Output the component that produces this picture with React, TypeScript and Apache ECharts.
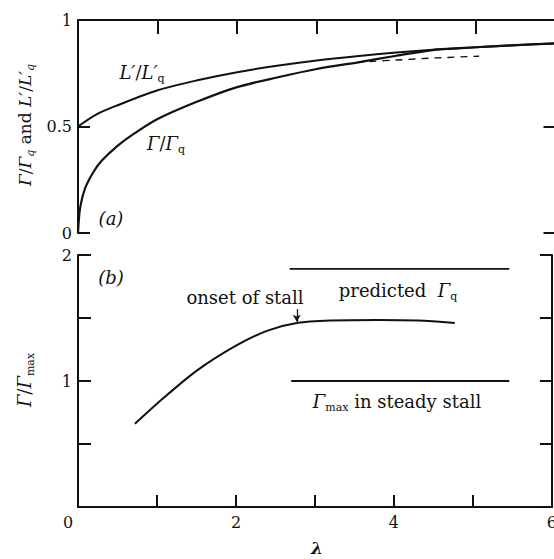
import React, { useEffect, useRef } from 'react';
import * as echarts from 'echarts';

// ---------- data ----------
const liftLambda = [0, 0.25, 0.5, 1, 1.5, 2, 2.5, 3, 3.5, 4, 4.5, 5, 5.5, 6];
const liftRatio = [0.5, 0.56, 0.6, 0.67, 0.717, 0.755, 0.785, 0.81, 0.83, 0.847, 0.861, 0.872, 0.882, 0.89];

const circLambda = [0, 0.02, 0.05, 0.1, 0.2, 0.3, 0.5, 0.7, 1, 1.5, 2, 2.5, 3, 3.5, 4, 4.5, 5, 5.5, 6];
const circRatio = [0, 0.1, 0.16, 0.22, 0.29, 0.34, 0.41, 0.465, 0.535, 0.617, 0.685, 0.73, 0.77, 0.8, 0.832, 0.861, 0.872, 0.882, 0.89];

const dashLambda = [3.5, 3.7, 4.0, 4.5, 5.04];
const dashRatio = [0.8, 0.806, 0.812, 0.822, 0.83];

const stallLambda = [0.72, 1, 1.5, 2, 2.4, 2.77, 3.2, 3.8, 4.3, 4.77];
const stallRatio = [0.66, 0.82, 1.08, 1.28, 1.4, 1.46, 1.48, 1.485, 1.48, 1.46];

const predLambda = [2.68, 5.46];
const predValue = [1.89, 1.89];
const maxLambda = [2.7, 5.46];
const maxValue = [1, 1];

const onsetLambda = 2.77;
const onsetTop = 1.57;
const onsetTip = 1.47;

const xTickLabels = ['0', '2', '4', '6'];
const yTopLabels = ['0', '0.5', '1'];
const yBottomLabels = ['1', '2'];

const FONT = 'DejaVu Serif';
const INK = '#111';

const zip = (xs: number[], ys: number[]) => xs.map((x, i) => [x, ys[i]]);

const richBase = {
  i: { fontFamily: FONT, fontStyle: 'italic', fontSize: 18, lineHeight: 24, color: INK },
  r: { fontFamily: FONT, fontSize: 18, lineHeight: 24, color: INK },
  s: { fontFamily: FONT, fontSize: 11, lineHeight: 12, verticalAlign: 'bottom', color: INK },
  si: { fontFamily: FONT, fontStyle: 'italic', fontSize: 11, lineHeight: 12, verticalAlign: 'bottom', color: INK },
  ti: { fontFamily: FONT, fontStyle: 'italic', fontSize: 17, lineHeight: 22, color: INK },
  tr: { fontFamily: FONT, fontSize: 17, lineHeight: 22, color: INK },
  l: { fontFamily: FONT, fontStyle: 'italic', fontWeight: 'bold', fontSize: 17, lineHeight: 17, color: INK },
};

function txt(x: number, y: number, text: string, extra: any = {}) {
  return {
    type: 'text',
    x,
    y,
    ...extra,
    style: {
      text,
      align: 'center',
      verticalAlign: 'middle',
      fill: INK,
      font: `18px "${FONT}"`,
      rich: richBase,
    },
  };
}

export default function App() {
  const ref = useRef<HTMLDivElement>(null);
  useEffect(() => {
    if (!ref.current) return;
    const chart = echarts.init(ref.current, undefined, { renderer: 'svg' });
    const axisLine = { show: true, onZero: false, lineStyle: { color: INK, width: 2 } };
    const tick = (len: number) => ({ show: true, inside: true, length: len, lineStyle: { color: INK, width: 2 } });
    const labelStyle = { fontFamily: FONT, fontSize: 16, color: INK };
    const curve = { smooth: 0.3, showSymbol: false };
    const option: any = {
      animation: false,
      backgroundColor: '#fff',
      grid: [
        { left: 78, top: 20, width: 477.5, height: 213 },
        { left: 78, top: 255, width: 477.5, height: 252 },
      ],
      xAxis: [
        {
          type: 'value', gridIndex: 0, position: 'top', min: 0, max: 6, interval: 1,
          axisLine, axisTick: tick(14), axisLabel: { show: false }, splitLine: { show: false },
        },
        {
          type: 'value', gridIndex: 1, position: 'bottom', min: 0, max: 6, interval: 1,
          axisLine, axisTick: tick(12), splitLine: { show: false },
          axisLabel: {
            ...labelStyle, margin: 7,
            formatter: (v: number) => {
              const s = xTickLabels.find((t) => Number(t) === v);
              if (s === undefined) return '';
              return v === 0 ? `{z|${s}}` : s;
            },
            rich: { z: { ...labelStyle, padding: [0, 20, 0, 0] } },
          },
        },
      ],
      yAxis: [
        {
          type: 'value', gridIndex: 0, position: 'left', min: 0, max: 1, interval: 0.5,
          axisLine, axisTick: tick(12), splitLine: { show: false },
          axisLabel: {
            ...labelStyle, margin: 6,
            formatter: (v: number) => yTopLabels.find((t) => Number(t) === v) ?? '',
          },
        },
        {
          type: 'value', gridIndex: 0, position: 'right', min: 0, max: 1, interval: 0.5,
          axisLine, axisTick: tick(12), splitLine: { show: false }, axisLabel: { show: false },
        },
        {
          type: 'value', gridIndex: 1, position: 'left', min: 0, max: 2, interval: 0.5,
          axisLine, axisTick: tick(13), splitLine: { show: false },
          axisLabel: {
            ...labelStyle, margin: 6,
            formatter: (v: number) => yBottomLabels.find((t) => Number(t) === v) ?? '',
          },
        },
        {
          type: 'value', gridIndex: 1, position: 'right', min: 0, max: 2, interval: 0.5,
          axisLine, axisTick: tick(12), splitLine: { show: false }, axisLabel: { show: false },
        },
      ],
      series: [
        {
          type: 'line', xAxisIndex: 0, yAxisIndex: 0, data: zip(liftLambda, liftRatio),
          ...curve, lineStyle: { color: INK, width: 2 },
        },
        {
          type: 'line', xAxisIndex: 0, yAxisIndex: 0, data: zip(circLambda, circRatio),
          ...curve, lineStyle: { color: INK, width: 2.2 },
        },
        {
          type: 'line', xAxisIndex: 0, yAxisIndex: 0, data: zip(dashLambda, dashRatio),
          ...curve, lineStyle: { color: INK, width: 1.4, type: [7, 6] },
        },
        {
          type: 'line', xAxisIndex: 1, yAxisIndex: 2, data: zip(stallLambda, stallRatio),
          ...curve, lineStyle: { color: INK, width: 2 },
          markLine: {
            silent: true, symbol: ['none', 'arrow'], symbolSize: [6, 7],
            label: { show: false },
            lineStyle: { color: INK, width: 1.3, type: 'solid' },
            data: [[{ coord: [onsetLambda, onsetTop] }, { coord: [onsetLambda, onsetTip] }]],
          },
        },
        {
          type: 'line', xAxisIndex: 1, yAxisIndex: 2, data: zip(predLambda, predValue),
          showSymbol: false, lineStyle: { color: INK, width: 1.8 },
        },
        {
          type: 'line', xAxisIndex: 1, yAxisIndex: 2, data: zip(maxLambda, maxValue),
          showSymbol: false, lineStyle: { color: INK, width: 1.8 },
        },
      ],
      graphic: [
        txt(25, 125, '{ti|Γ}{tr|/}{ti|Γ}{si|q}{tr| and }{ti|L′}{tr|/}{ti|L′}{si|q}', { rotation: Math.PI / 2 }),
        txt(24, 380, '{i|Γ}{r|/}{i|Γ}{s|max}', { rotation: Math.PI / 2 }),
        txt(142, 72, '{i|L′}{r|/}{i|L′}{s|q}'),
        txt(166, 143, '{i|Γ}{r|/}{i|Γ}{s|q}'),
        txt(111, 218, '{i|(a)}'),
        txt(111, 277, '{i|(b)}'),
        txt(245, 297, '{r|onset of stall}'),
        txt(398, 290, '{r|predicted  }{i|Γ}{s|q}'),
        txt(397, 401, '{i|Γ}{s|max}{r| in steady stall}'),
        txt(317, 548, '{l|λ}'),
      ],
    };
    chart.setOption(option);
    return () => chart.dispose();
  }, []);
  return (
    <div
      ref={ref}
      style={{ position: 'fixed', left: 0, top: 0, width: 560, height: 559, background: '#fff' }}
    />
  );
}
